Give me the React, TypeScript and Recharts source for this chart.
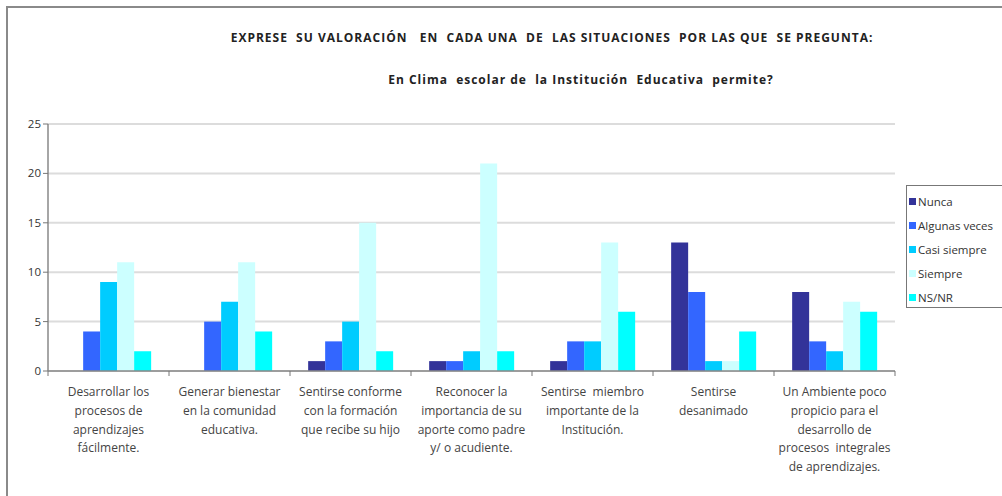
import React from "react";
import { BarChart, Bar, XAxis, YAxis, CartesianGrid } from "recharts";

const categories = [
  "Desarrollar los\nprocesos de\naprendizajes\nfácilmente.",
  "Generar bienestar\nen la comunidad\neducativa.",
  "Sentirse conforme\ncon la formación\nque recibe su hijo",
  "Reconocer la\nimportancia de su\naporte como padre\ny/ o acudiente.",
  "Sentirse  miembro\nimportante de la\nInstitución.",
  "Sentirse\ndesanimado",
  "Un Ambiente poco\npropicio para el\ndesarrollo de\nprocesos  integrales\nde aprendizajes.",
];

const nunca = [0, 0, 1, 1, 1, 13, 8];
const algunasVeces = [4, 5, 3, 1, 3, 8, 3];
const casiSiempre = [9, 7, 5, 2, 3, 1, 2];
const siempre = [11, 11, 15, 21, 13, 1, 7];
const nsnr = [2, 4, 2, 2, 6, 4, 6];

const yTicks = [0, 5, 10, 15, 20, 25];

const series = [
  { key: "nunca", name: "Nunca", color: "#333399" },
  { key: "algunas", name: "Algunas veces", color: "#3366FF" },
  { key: "casi", name: "Casi siempre", color: "#00CCFF" },
  { key: "siempre", name: "Siempre", color: "#CCFFFF" },
  { key: "nsnr", name: "NS/NR", color: "#00FFFF" },
];

const data = categories.map((label, i) => ({
  label,
  nunca: nunca[i],
  algunas: algunasVeces[i],
  casi: casiSiempre[i],
  siempre: siempre[i],
  nsnr: nsnr[i],
}));

const FONT = "'Open Sans', 'DejaVu Sans', sans-serif";
const W = 1002;
const H = 496;
const M = { top: 124, right: 107, bottom: 95, left: 0 };
const Y_W = 48;
const STEP = (W - M.left - M.right - Y_W) / categories.length;

const CategoryTick = (props: any) => {
  const { x, y, payload, index } = props;
  const lines = String(payload.value).split("\n");
  return (
    <g>
      <line x1={x - STEP / 2} x2={x - STEP / 2} y1={y - 8} y2={y - 3} stroke="#777" />
      {index === categories.length - 1 && (
        <line x1={x + STEP / 2} x2={x + STEP / 2} y1={y - 8} y2={y - 3} stroke="#777" />
      )}
      <text x={x} y={y + 17} textAnchor="middle" fontSize={12} fill="#444" fontFamily={FONT}>
        {lines.map((l, i) => (
          <tspan key={i} x={x} dy={i === 0 ? 0 : 18.8} style={{ whiteSpace: "pre" }}>
            {l}
          </tspan>
        ))}
      </text>
    </g>
  );
};

const titleStyle: React.CSSProperties = {
  position: "absolute",
  left: 0,
  textAlign: "center",
  fontFamily: FONT,
  fontWeight: 700,
  fontSize: 12,
  color: "#222",
  whiteSpace: "pre",
  letterSpacing: 1,
};

export default function App() {
  return (
    <div style={{ position: "absolute", left: 0, top: 0, width: W, height: H, background: "#fff", overflow: "hidden" }}>
      <div style={{ position: "absolute", left: 6, top: 6, width: W, height: 2, background: "#8a8a8a" }} />
      <div style={{ position: "absolute", left: 6, top: 6, width: 2, height: H, background: "#8a8a8a" }} />
      <div style={{ ...titleStyle, width: 1104, top: 29 }}>
        EXPRESE  SU VALORACIÓN   EN  CADA UNA  DE  LAS SITUACIONES  POR LAS QUE  SE PREGUNTA:
      </div>
      <div style={{ ...titleStyle, width: 1162, top: 71 }}>
        En Clima  escolar de  la Institución  Educativa  permite?
      </div>
      <BarChart width={W} height={H} data={data} margin={M} barCategoryGap="15%" barGap={0}>
        <CartesianGrid vertical={false} stroke="#dcdcdc" strokeWidth={2} />
        <XAxis
          dataKey="label"
          interval={0}
          tickLine={false}
          axisLine={{ stroke: "#888", strokeWidth: 1.5 }}
          tick={<CategoryTick />}
        />
        <YAxis
          width={Y_W}
          domain={[0, 25]}
          ticks={yTicks}
          interval={0}
          tickSize={5}
          tickLine={{ stroke: "#777" }}
          axisLine={{ stroke: "#888", strokeWidth: 1.5 }}
          tick={{ fontSize: 11.5, fill: "#333", fontFamily: FONT }}
        />
        {series.map((s) => (
          <Bar key={s.key} dataKey={s.key} name={s.name} fill={s.color} isAnimationActive={false} />
        ))}
      </BarChart>
      <div
        style={{
          position: "absolute",
          left: 906,
          top: 185,
          border: "1px solid #777",
          width: 110,
          height: 123,
          padding: "3px 0 0 2px",
          boxSizing: "border-box",
          fontFamily: FONT,
          fontSize: 11.5,
          color: "#333",
          background: "#fff",
        }}
      >
        {series.map((s) => (
          <div key={s.key} style={{ display: "flex", alignItems: "center", height: 24, whiteSpace: "nowrap" }}>
            <span style={{ width: 7, height: 7, background: s.color, marginRight: 2, display: "inline-block" }} />
            {s.name}
          </div>
        ))}
      </div>
    </div>
  );
}
